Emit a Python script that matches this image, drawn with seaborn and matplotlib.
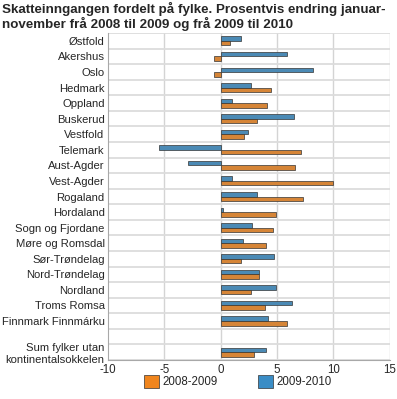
import numpy as np
import pandas as pd
import seaborn as sns
from matplotlib import pyplot as plt
from matplotlib.patches import Patch

fylke = ["Østfold", "Akershus", "Oslo", "Hedmark", "Oppland", "Buskerud",
         "Vestfold", "Telemark", "Aust-Agder", "Vest-Agder", "Rogaland",
         "Hordaland", "Sogn og Fjordane", "Møre og Romsdal", "Sør-Trøndelag",
         "Nord-Trøndelag", "Nordland", "Troms Romsa", "Finnmark Finnmárku",
         "Sum fylker utan\nkontinentalsokkelen"]
endring_2008_2009 = [0.8, -0.6, -0.6, 4.5, 4.1, 3.25, 2.1, 7.1, 6.6, 10.0, 7.3,
                     4.9, 4.6, 4.0, 1.8, 3.4, 2.7, 3.95, 5.9, 2.95]
endring_2009_2010 = [1.8, 5.9, 8.2, 2.7, 1.0, 6.5, 2.4, -5.5, -2.9, 1.0, 3.25,
                     0.2, 2.8, 2.0, 4.7, 3.4, 4.9, 6.3, 4.2, 4.0]
periodar = ["2008-2009", "2009-2010"]
farger = {"2008-2009": "#f0851d", "2009-2010": "#3a8dc6"}

df = pd.DataFrame({
    "fylke": fylke * 2,
    "endring": endring_2008_2009 + endring_2009_2010,
    "periode": [periodar[0]] * len(fylke) + [periodar[1]] * len(fylke),
})

# blank row before the sum line
rekkefolge = fylke[:-1] + [" "] + fylke[-1:]

sns.set_style("white")
plt.rcParams["font.family"] = ["Liberation Sans", "DejaVu Sans"]

fig = plt.figure(figsize=(3.97, 3.99), dpi=100)
ax = fig.add_axes([0.272, 0.098, 0.71, 0.819])

sns.barplot(data=df, x="endring", y="fylke", hue="periode", order=rekkefolge,
            hue_order=["2009-2010", "2008-2009"], palette=farger, orient="h",
            width=0.58, edgecolor="#333333", linewidth=0.5, legend=False,
            errorbar=None, ax=ax)

ax.set_xlim(-10, 15)
ax.set_ylim(len(rekkefolge) - 0.5, -0.5)
ax.set_xticks([-10, -5, 0, 5, 10, 15])
ax.set_xticklabels(["-10", "-5", "0", "5", "10", "15"])
for x in [-5, 0, 5, 10, 15]:
    ax.axvline(x, color="#d4d4d4", lw=1, zorder=0)
for y in np.arange(-0.5, len(rekkefolge), 1):
    ax.axhline(y, color="#dcdcdc", lw=1.3, zorder=0)
ax.set_xlabel("")
ax.set_ylabel("")
ax.tick_params(axis="x", length=0, labelsize=8.3, pad=3)
ax.tick_params(axis="y", length=0, labelsize=8.1, pad=2.5)
for lab in ax.get_yticklabels():
    lab.set_multialignment("right")
for side in ["top", "right"]:
    ax.spines[side].set_visible(False)
for side in ["left", "bottom"]:
    ax.spines[side].set_color("#a8a8a8")
    ax.spines[side].set_linewidth(0.8)

handles = [Patch(facecolor=farger[p], edgecolor="#333333", linewidth=0.5)
           for p in periodar]
fig.legend(handles, periodar, loc="center", bbox_to_anchor=(0.6, 0.043),
           ncol=2, frameon=False, fontsize=8.3, handlelength=1.3,
           handleheight=1.3, columnspacing=3.5, handletextpad=0.3)

fig.text(0.005, 0.995, "Skatteinngangen fordelt på fylke. Prosentvis endring januar-\n"
         "november frå 2008 til 2009 og frå 2009 til 2010",
         ha="left", va="top", fontsize=9.6, fontweight="bold", linespacing=1.05)

plt.savefig("out.png", dpi=100)
